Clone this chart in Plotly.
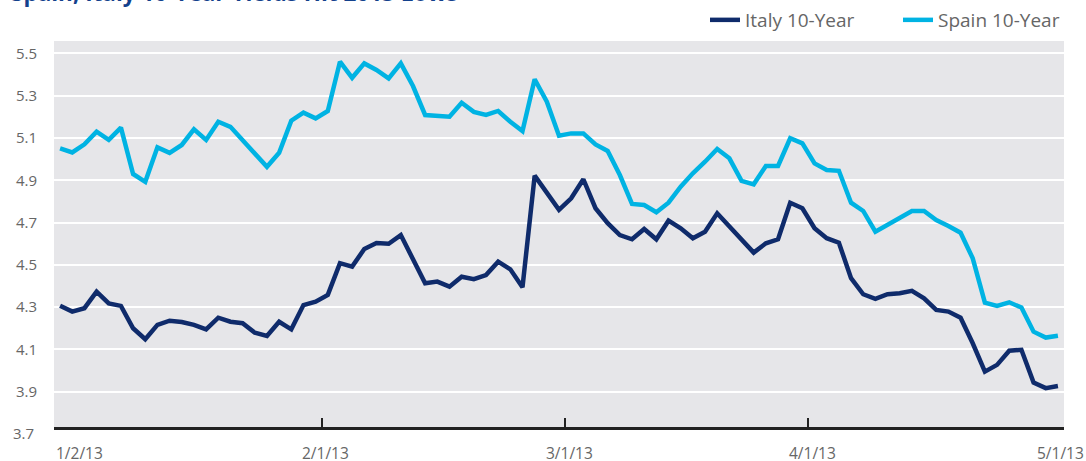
import pandas as pd
import plotly.graph_objects as go

# Trading days Jan 2 - Apr 30, 2013 (European calendar: Good Friday & Easter Monday closed)
holidays = ["2013-03-29", "2013-04-01"]
dates = pd.bdate_range("2013-01-02", "2013-04-30", freq="C", holidays=holidays)

italy_10y = [
    4.307, 4.279, 4.295, 4.373, 4.318, 4.306, 4.200, 4.148, 4.216, 4.236,
    4.230, 4.216, 4.195, 4.250, 4.231, 4.224, 4.179, 4.164, 4.231, 4.195,
    4.310, 4.326, 4.358, 4.508, 4.492, 4.575, 4.603, 4.600, 4.641, 4.523,
    4.413, 4.421, 4.397, 4.444, 4.432, 4.452, 4.515, 4.479, 4.394, 4.922,
    4.838, 4.760, 4.815, 4.905, 4.768, 4.697, 4.641, 4.621, 4.670, 4.621,
    4.709, 4.673, 4.626, 4.657, 4.744, 4.681, 4.621, 4.558, 4.602, 4.621,
    4.794, 4.768, 4.673, 4.626, 4.605, 4.437, 4.361, 4.339, 4.361, 4.366,
    4.377, 4.342, 4.287, 4.279, 4.250, 4.129, 3.995, 4.027, 4.094, 4.098,
    3.943, 3.917, 3.927,
]

spain_10y = [
    5.051, 5.032, 5.070, 5.130, 5.091, 5.149, 4.930, 4.893, 5.056, 5.030,
    5.067, 5.141, 5.091, 5.177, 5.153, 5.089, 5.024, 4.964, 5.030, 5.182,
    5.220, 5.193, 5.228, 5.461, 5.385, 5.453, 5.422, 5.382, 5.453, 5.346,
    5.209, 5.206, 5.201, 5.267, 5.224, 5.209, 5.228, 5.177, 5.133, 5.378,
    5.272, 5.111, 5.122, 5.122, 5.070, 5.039, 4.925, 4.788, 4.783, 4.749,
    4.794, 4.870, 4.933, 4.988, 5.048, 5.004, 4.897, 4.881, 4.968, 4.968,
    5.099, 5.075, 4.980, 4.949, 4.945, 4.794, 4.755, 4.657, 4.689, 4.723,
    4.755, 4.755, 4.712, 4.684, 4.652, 4.531, 4.321, 4.306, 4.323, 4.298,
    4.184, 4.156, 4.165,
]

x_tick_labels = ["1/2/13", "2/1/13", "3/1/13", "4/1/13", "5/1/13"]
y_ticks = [3.9, 4.1, 4.3, 4.5, 4.7, 4.9, 5.1, 5.3, 5.5]
y_bottom_label = 3.7

title_text = "Spain, Italy 10-Year Yields Hit 2013 Lows"

ITALY = "#0f2b6b"
SPAIN = "#00b3e3"
GREY = "#666666"
FONT = "Open Sans"

n = len(dates)
pos = list(range(n))
date_txt = [f"{d.month}/{d.day}/{d.strftime('%y')}" for d in dates]

# month boundaries (ticks sit between categories)
bounds = [-0.5]
for i in range(1, n):
    if dates[i].month != dates[i - 1].month:
        bounds.append(i - 0.5)
bounds.append(n - 0.5)

fig = go.Figure()
fig.add_trace(go.Scatter(x=pos, y=italy_10y, mode="lines", name="Italy 10-Year", legend="legend",
                         line=dict(color=ITALY, width=4.5), customdata=date_txt,
                         hovertemplate="%{customdata}: %{y:.2f}<extra>Italy</extra>"))
fig.add_trace(go.Scatter(x=pos, y=spain_10y, mode="lines", name="Spain 10-Year", legend="legend2",
                         line=dict(color=SPAIN, width=4.5), customdata=date_txt,
                         hovertemplate="%{customdata}: %{y:.2f}<extra>Spain</extra>"))

annotations = []
for k, (b, lab) in enumerate(zip(bounds, x_tick_labels)):
    if k == 0:
        anchor, shift = "left", 0
    elif k == len(bounds) - 1:
        anchor, shift = "center", -4
    else:
        anchor, shift = "center", 4
    annotations.append(dict(x=b, xref="x", y=0, yref="paper", yanchor="top", yshift=-13,
                            xanchor=anchor, xshift=shift, text=lab, showarrow=False,
                            font=dict(family=FONT, size=15.5, color=GREY)))
annotations.append(dict(x=0, xref="paper", xanchor="right", xshift=-18, y=0, yref="paper",
                        yanchor="middle", yshift=-6, text=f"{y_bottom_label:.1f}", showarrow=False,
                        font=dict(family=FONT, size=15, color=GREY)))
annotations.append(dict(x=0, xref="paper", xanchor="left", xshift=-45, y=1, yref="paper",
                        yanchor="bottom", yshift=31, text=f"<b>{title_text}</b>", showarrow=False,
                        font=dict(family=FONT, size=22.5, color="#13418c")))

legend_style = dict(orientation="h", xanchor="left", xref="container", yref="container",
                    y=1 - 20 / 461, yanchor="middle",
                    font=dict(family=FONT, size=19, color=GREY), bgcolor="rgba(0,0,0,0)")

fig.update_layout(
    width=1086, height=461,
    margin=dict(l=54, r=22, t=41, b=34, autoexpand=False),
    paper_bgcolor="white",
    plot_bgcolor="#e6e6e9",
    font=dict(family=FONT, color=GREY, size=15),
    showlegend=True,
    legend=dict(legend_style, x=705 / 1086),
    legend2=dict(legend_style, x=898 / 1086),
    annotations=annotations,
    hovermode="x unified",
)
fig.update_xaxes(range=[-0.5, n - 0.5], tickmode="array", tickvals=bounds, ticktext=[""] * len(bounds),
                 ticks="inside", ticklen=9, tickwidth=2, tickcolor="#222222",
                 showline=True, linecolor="#222222", linewidth=3, showgrid=False, zeroline=False,
                 showticklabels=False)
fig.update_yaxes(range=[3.733, 5.559], tickmode="array", tickvals=y_ticks,
                 ticktext=[f"{v:.1f}" for v in y_ticks], showgrid=True, gridcolor="white", gridwidth=2,
                 zeroline=False, showline=False, ticks="", ticklabelstandoff=16,
                 tickfont=dict(family=FONT, size=15, color=GREY))

fig.write_html("out.html", config={"displayModeBar": False},
               post_script=["document.body.style.margin='0';"])
